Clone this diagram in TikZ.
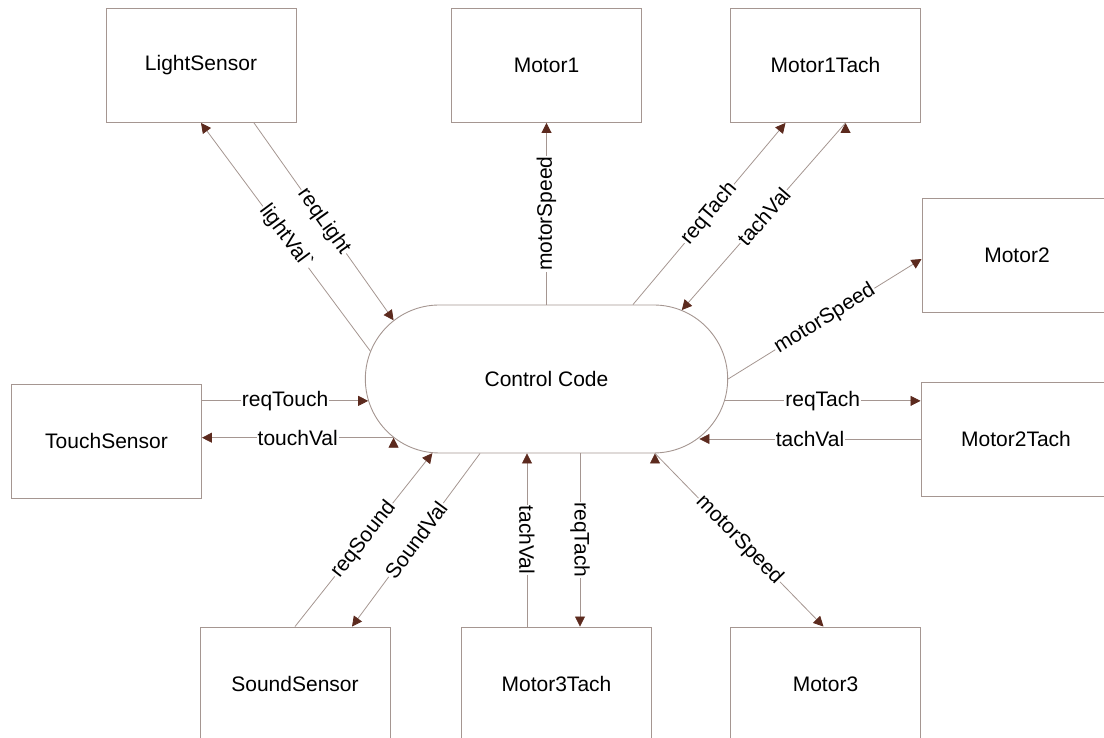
\documentclass[tikz,border=0pt]{standalone}
\usepackage{fontspec}
\setmainfont{Liberation Sans}
\usetikzlibrary{shapes.misc,arrows.meta,calc}
\definecolor{linegray}{RGB}{165,150,145}
\definecolor{tipbrown}{RGB}{92,42,30}

\begin{document}
\begin{tikzpicture}[x=1pt,y=1pt,font=\fontsize{21}{25}\selectfont]
\tikzstyle{block}=[rectangle, draw=linegray, line width=0.9pt, minimum width=190pt, minimum height=114pt]
\tikzstyle{code}=[rounded rectangle, draw=linegray, line width=0.9pt, minimum width=369pt, minimum height=148pt]
\tikzstyle{connect}=[-{Triangle[length=10pt,width=10pt,color=tipbrown]}, draw=linegray, line width=0.8pt]
\tikzstyle{lbl}=[fill=white, inner sep=1pt, sloped]
\useasboundingbox (0,0) rectangle (1104,738);
  \node[code] (cc) at (546.5,359) {Control Code};
  \node[block] (ls) at (201,672.5) {LightSensor};
  \node[block] (m1) at (546.5,672.5) {Motor1};
  \node[block] (m1t) at (825.5,672.5) {Motor1Tach};
  \node[block] (m2) at (1017,483) {Motor2};
  \node[block] (m2t) at (1016,299) {Motor2Tach};
  \node[block] (ts) at (106.5,297) {TouchSensor};
  \node[block] (ss) at (295,54) {SoundSensor};
  \node[block] (m3t) at (556.5,54) {Motor3Tach};
  \node[block] (m3) at (825.5,54) {Motor3};
% top
\path[connect] ([xshift=53pt]ls.south) edge node[lbl] {reqLight} (cc.159.1)
           (cc.171.8) edge node[lbl] {lightVal\textasciigrave} (ls.south)
           (cc.north) edge node[lbl] {motorSpeed} (m1.south)
           ([xshift=86.5pt]cc.north) edge node[lbl] {reqTach} ([xshift=-40pt]m1t.south)
           ([xshift=20pt]m1t.south) edge node[lbl] {tachVal} (cc.27.6)
           ;
% sides
\path[connect] (cc.east) edge node[lbl] {motorSpeed} ([yshift=-4pt]m2.west)
           (cc.-7.9) edge node[lbl] {reqTach} (cc.-7.9 -| m2t.west)
           (m2t.west) edge node[lbl] {tachVal} (m2t.west -| cc.-21.3)
           (ts.east |- cc.187.6) edge node[lbl] {reqTouch} (cc.187.6)
           (cc.201.8) edge node[lbl] {touchVal} (ts.east |- cc.201.8)
           ;
% bottom
\path[connect] (ss.north) edge node[lbl] {reqSound} (cc.213.1)
           ([xshift=-66.5pt]cc.south) edge node[lbl] {SoundVal} ([xshift=57pt]ss.north)
           ([xshift=-19.5pt]cc.south |- m3t.north) edge node[fill=white, inner sep=1pt, rotate=-90] {tachVal} ([xshift=-19.5pt]cc.south)
           ([xshift=33.5pt]cc.south) edge node[lbl] {reqTach} ([xshift=33.5pt]cc.south |- m3t.north)
           ([xshift=108.5pt]cc.south) edge node[lbl] {motorSpeed} ([xshift=-2pt]m3.north)
           ;
\end{tikzpicture}
\end{document}
